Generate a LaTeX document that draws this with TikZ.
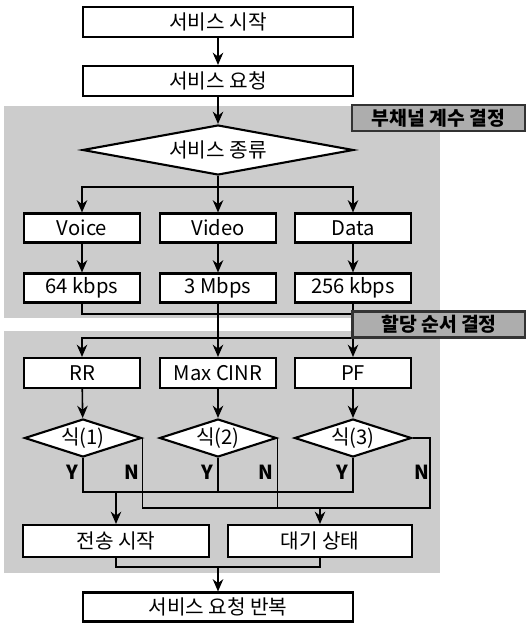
\documentclass[tikz,border=0pt]{standalone}
\usepackage{fontspec}
\setmainfont{Noto Sans CJK KR}
\usetikzlibrary{shapes.geometric}
\usetikzlibrary{arrows.meta}
\tikzstyle{box}=[draw, line width=1.2pt, fill=white, inner sep=0pt, minimum height=0.58cm, font=\fontsize{11.5}{13}\selectfont]
\tikzstyle{test}=[draw, diamond, line width=1.2pt, fill=white, inner sep=0pt, font=\fontsize{11.5}{13}\selectfont]
\tikzstyle{tag}=[draw=black!80, line width=1.2pt, fill=black!32, inner sep=0pt, minimum width=3.46cm, minimum height=0.52cm, font=\fontsize{11}{13}\selectfont\bfseries]
\tikzstyle{yn}=[inner sep=0pt, font=\fontsize{11}{13}\selectfont\bfseries]
\tikzstyle{arr}=[line width=0.9pt, -{Stealth[length=7pt, width=6pt]}]
\tikzstyle{wire}=[line width=0.9pt]

\begin{document}
\begin{tikzpicture}[x=0.02cm, y=-0.02cm]
            \useasboundingbox (0,0) rectangle (526,623);
            % shaded stages
            \fill[black!20] (4,106) rectangle (440,318);
            \fill[black!20] (4,331) rectangle (440,573);

            \node[box, minimum width=5.4cm, minimum height=0.6cm] (start) at (218,22) {서비스 시작};
            \node[box, minimum width=5.4cm, minimum height=0.6cm] (req) at (218,81) {서비스 요청};
            \node[test, shape aspect=5.42, minimum width=5.42cm, minimum height=1cm] (kind) at (218,150) {서비스 종류};

            \node[box, minimum width=2.32cm] (voice) at (82,228) {Voice};
            \node[box, minimum width=2.32cm] (video) at (218,228) {Video};
            \node[box, minimum width=2.32cm] (data) at (353,228) {Data};

            \node[box, minimum width=2.32cm] (r64) at (82,288) {64 kbps};
            \node[box, minimum width=2.32cm] (r3) at (218,288) {3 Mbps};
            \node[box, minimum width=2.32cm] (r256) at (353,288) {256 kbps};

            \node[box, minimum width=2.32cm, minimum height=0.6cm] (rr) at (82,373) {RR};
            \node[box, minimum width=2.32cm, minimum height=0.6cm] (maxc) at (218,373) {Max CINR};
            \node[box, minimum width=2.32cm, minimum height=0.6cm] (pf) at (353,373) {PF};

            \node[test, shape aspect=3.08, minimum width=2.34cm, minimum height=0.76cm] (d1) at (83,438) {식(1)};
            \node[test, shape aspect=3.08, minimum width=2.34cm, minimum height=0.76cm] (d2) at (218,438) {식(2)};
            \node[test, shape aspect=3.08, minimum width=2.34cm, minimum height=0.76cm] (d3) at (353,438) {식(3)};

            \node[yn] (y1) at (72,472) {Y};
            \node[yn] (n1) at (132,472) {N};
            \node[yn] (y2) at (207,472) {Y};
            \node[yn] (n2) at (266,472) {N};
            \node[yn] (y3) at (342,472) {Y};
            \node[yn] (n3) at (422,472) {N};

            \node[box, minimum width=3.72cm, minimum height=0.64cm] (tx) at (116,541) {전송 시작};
            \node[box, minimum width=3.68cm, minimum height=0.64cm] (wait) at (320,541) {대기 상태};
            \node[box, minimum width=5.4cm] (rep) at (218,607) {서비스 요청 반복};

            \coordinate (kbus) at (218,187);
            \coordinate (rbus) at (218,314);
            \coordinate (sbus) at (218,338);
            \coordinate (ybus) at (218,492);
            \coordinate (nbus) at (430,508);
            \coordinate (mbus) at (218,567);

            \draw[arr] (start) -- (req);
            \draw[arr] (req) -- (kind);
            \draw[arr] (kind.south) -- (video.north);
            \draw[arr] (kbus) -| (voice.north);
            \draw[arr] (kbus) -| (data.north);

            \draw[arr] (voice) -- (r64);
            \draw[arr] (video) -- (r3);
            \draw[arr] (data) -- (r256);

            \draw[wire] (r64.south) |- (r256.south |- rbus);
            \draw[arr] (r3.south) -- (maxc.north);
            \draw[arr] (r256.south) -- (pf.north);
            \draw[arr] (pf.north |- sbus) -| (rr.north);

            \draw[arr] (rr) -- (d1);
            \draw[arr] (maxc) -- (d2);
            \draw[arr] (pf) -- (d3);

            \draw[wire] (d1.south) |- (d3.south |- ybus) -- (d3.south);
            \draw[wire] (d2.south) -- (d2.south |- ybus);
            \draw[arr] (tx.north |- ybus) -- (tx.north);

            \draw[wire] (d1.east) |- (nbus) |- (d3.east);
            \draw[wire] (d2.east) -- (d2.east |- nbus);
            \draw[arr] (wait.north |- nbus) -- (wait.north);

            \draw[wire] (tx.south) |- (wait.south |- mbus) -- (wait.south);
            \draw[arr] (mbus) -- (rep.north);

            \node[tag] (stage1) at (438.5,118) {부채널 계수 결정};
            \node[tag] (stage2) at (439,324.5) {할당 순서 결정};
        \end{tikzpicture}
\end{document}
